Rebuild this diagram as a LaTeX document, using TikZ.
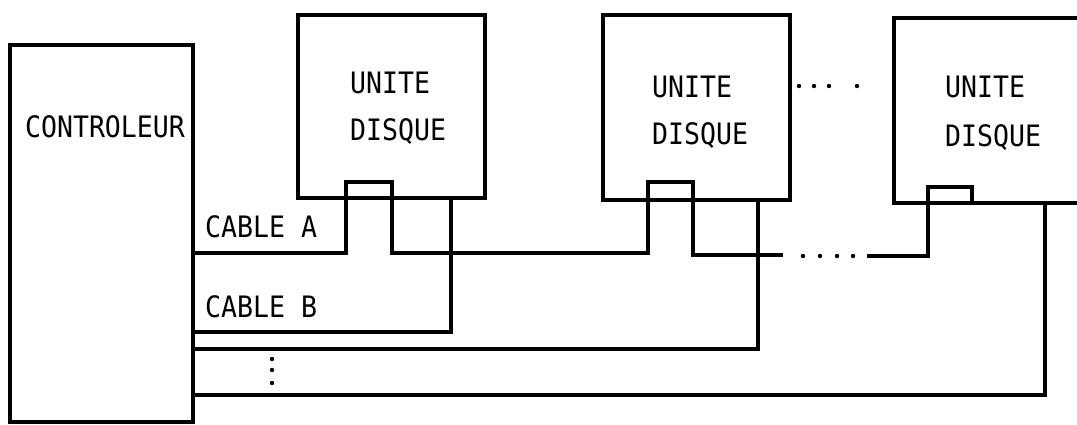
\documentclass[tikz,border=0pt]{standalone}
\usepackage{fontspec}
\newfontfamily\monocond[FakeStretch=0.9]{DejaVu Sans Mono}
\begin{document}
\begin{tikzpicture}[x=1pt,y=-1pt,
  box/.style={draw, line width=3.6pt, inner sep=0pt, outer sep=0pt},
  lbl/.style={inner sep=0pt, anchor=base west, font=\monocond\fontsize{29.5}{34}\selectfont},
  cable/.style={line width=3.6pt, line join=miter},
  smalldot/.style={fill=black, circle, inner sep=0pt, minimum size=4.4pt}]
\useasboundingbox (0,0) rectangle (1077,424);
\clip (0,0) rectangle (1077,424);

% controller and disk units
\node[box, minimum width=183pt, minimum height=377pt] (ctrl) at (101.5,233.5) {};
\node[box, minimum width=187pt, minimum height=183pt] (u1) at (391.5,106.5) {};
\node[box, minimum width=187pt, minimum height=185pt] (u2) at (696.5,107.5) {};
\node[box, minimum width=230pt, minimum height=185pt] (u3) at (1009,110.5) {};

% labels
\node[lbl, anchor=base] (tctrl) at (105,137) {CONTROLEUR};
\node[lbl] (t1a) at (350,93) {UNITE};
\node[lbl] (t1b) at (350,140) {DISQUE};
\node[lbl] (t2a) at (652,97) {UNITE};
\node[lbl] (t2b) at (652,144) {DISQUE};
\node[lbl] (t3a) at (945,97) {UNITE};
\node[lbl] (t3b) at (945,146) {DISQUE};
\node[lbl] (ca) at (205,237) {CABLE A};
\node[lbl] (cb) at (205,317) {CABLE B};

% cable A, looping through the connector of each unit
\coordinate (a1) at (783,255);
\coordinate (a2) at (867,256);
\draw[cable] (ctrl.east |- 0,253) -- (346,253) -- (346,182) -- (392,182) -- (392,253)
  -- (648,253) -- (648,182) -- (693,182) -- (693,255) -- (a1);
\draw[cable] (a2) -- (928,256) -- (928,187) -- (972,187) -- (972,0 |- u3.south);

% individual cables to each unit
\draw[cable] (ctrl.east |- 0,332) -| (451,0 |- u1.south);
\draw[cable] (ctrl.east |- 0,349) -| (758,0 |- u2.south);
\draw[cable] (ctrl.east |- 0,395) -| (1045,0 |- u3.south);

% ellipsis dots
\foreach \x [count=\i] in {803,820,837,853} \node[smalldot] (h\i) at (\x,256) {};
\foreach \x [count=\i] in {799,814,829,857} \node[smalldot] (g\i) at (\x,86) {};
\foreach \y [count=\i] in {359,370,383} \node[smalldot] (v\i) at (272,\y) {};
\end{tikzpicture}
\end{document}
